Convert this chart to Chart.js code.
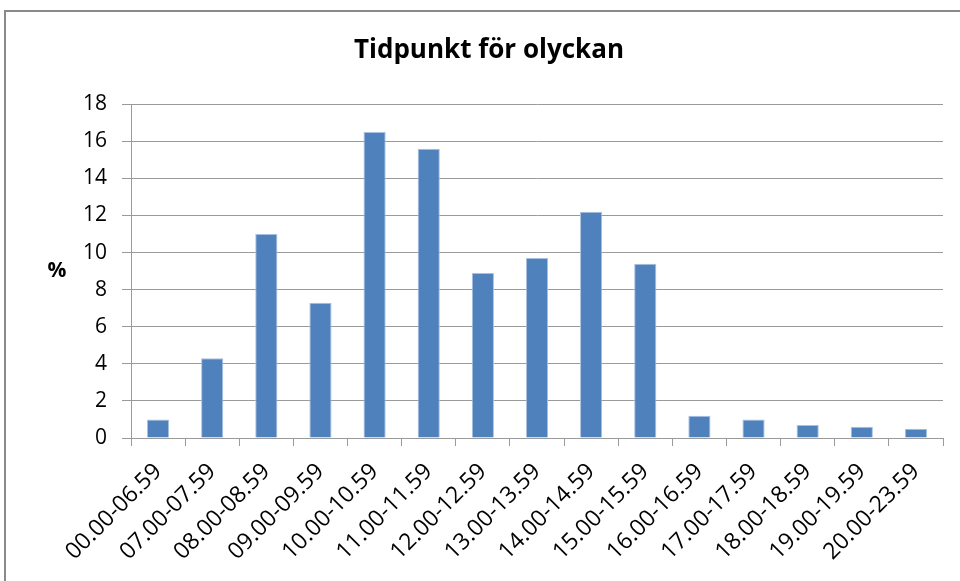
<!DOCTYPE html>
<html>
<head>
<meta charset="utf-8">
<script src="https://cdn.jsdelivr.net/npm/chart.js@4/dist/chart.umd.min.js"></script>
<style>
  html, body { margin: 0; padding: 0; background: #fff; overflow: hidden; width: 960px; height: 581px; }
  #wrap { position: relative; width: 960px; height: 581px; }
  #frame { position: absolute; left: 4px; top: 10px; width: 1000px; height: 1000px; border: 2px solid #8a8a8a; pointer-events: none; }
  canvas { position: absolute; left: 0; top: 0; }
</style>
</head>
<body>
<div id="wrap">
  <canvas id="c" width="960" height="581"></canvas>
  <div id="frame"></div>
</div>
<script>
const chartTitle = "Tidpunkt för olyckan";
const yAxisLabel = "%";
const categories = [
  "00.00-06.59", "07.00-07.59", "08.00-08.59", "09.00-09.59", "10.00-10.59",
  "11.00-11.59", "12.00-12.59", "13.00-13.59", "14.00-14.59", "15.00-15.59",
  "16.00-16.59", "17.00-17.59", "18.00-18.59", "19.00-19.59", "20.00-23.59"
];
const percentValues = [1.0, 4.3, 11.0, 7.3, 16.5, 15.6, 8.9, 9.7, 12.2, 9.4, 1.2, 1.0, 0.7, 0.6, 0.5];
const yTicks = { min: 0, max: 18, step: 2 };

const FONT = "'Open Sans', 'DejaVu Sans', sans-serif";

const percentLabel = {
  id: 'percentLabel',
  afterDraw(chart) {
    const ctx = chart.ctx;
    const area = chart.chartArea;
    ctx.save();
    ctx.font = "bold 21px " + FONT;
    ctx.fillStyle = '#000';
    ctx.textAlign = 'center';
    ctx.textBaseline = 'middle';
    ctx.fillText(yAxisLabel, 57, (area.top + area.bottom) / 2);
    ctx.restore();
  }
};

new Chart(document.getElementById('c'), {
  type: 'bar',
  data: {
    labels: categories,
    datasets: [{
      data: percentValues,
      backgroundColor: '#4f81bd',
      borderColor: '#a9c1e0',
      borderWidth: 1,
      barPercentage: 0.41,
      categoryPercentage: 1.0
    }]
  },
  options: {
    responsive: false,
    animation: false,
    layout: { padding: { left: 35, right: 17, top: 0, bottom: 0 } },
    plugins: {
      legend: { display: false },
      tooltip: { enabled: false },
      title: {
        display: true,
        text: chartTitle,
        color: '#000',
        font: { family: FONT, size: 26, weight: 'bold', lineHeight: 1.2 },
        padding: { top: 35, bottom: 38 }
      }
    },
    scales: {
      x: {
        offset: true,
        grid: {
          offset: true,
          drawOnChartArea: false,
          drawTicks: true,
          tickLength: 8,
          color: '#9a9a9a'
        },
        border: { display: true, color: '#9a9a9a' },
        ticks: {
          minRotation: 45,
          maxRotation: 45,
          autoSkip: false,
          padding: 12,
          color: '#000',
          font: { family: FONT, size: 23 }
        },
        afterFit(scale) { scale.height = 143; }
      },
      y: {
        min: yTicks.min,
        max: yTicks.max,
        grid: { color: '#9a9a9a', tickLength: 9 },
        border: { display: true, color: '#9a9a9a' },
        ticks: {
          stepSize: yTicks.step,
          padding: 15,
          color: '#000',
          font: { family: FONT, size: 21 }
        },
        afterFit(scale) { scale.width = 96; }
      }
    }
  },
  plugins: [percentLabel]
});
</script>
</body>
</html>
